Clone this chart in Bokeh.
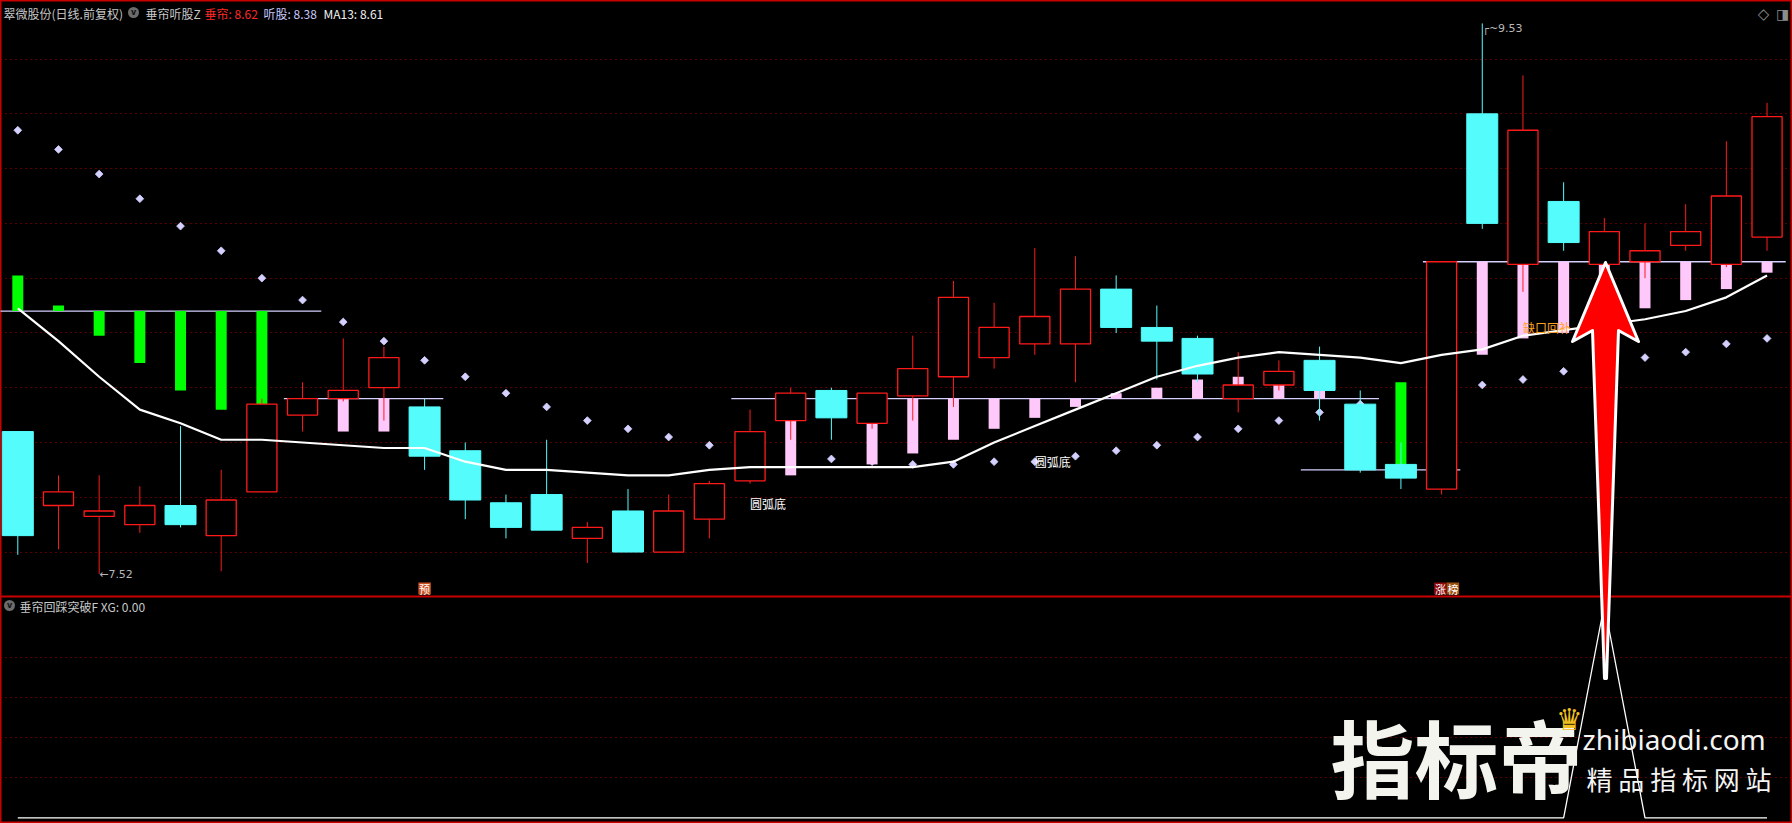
import numpy as np
from bokeh.plotting import figure
from bokeh.models import Range1d, Grid, FixedTicker, Label, GlobalInlineStyleSheet
from bokeh.core.properties import value
from bokeh.embed import file_html
from bokeh.resources import INLINE

# ---------------- data ----------------
stock_title = "翠微股份(日线.前复权)"
ind_main = "垂帘听股Z"
ind_sub = "垂帘回踩突破F"

open_ = [8.04, 7.77, 7.73, 7.70, 7.77, 7.66, 7.82, 8.10, 8.16, 8.20, 8.13, 7.97, 7.78, 7.81, 7.65, 7.75, 7.60, 7.72, 7.86, 8.08,
         8.19, 8.07, 8.17, 8.24, 8.31, 8.36, 8.36, 8.56, 8.42, 8.38, 8.16, 8.21, 8.30, 8.14, 7.92, 7.83, 9.20, 8.65, 8.88, 8.65,
         8.66, 8.72, 8.65, 8.75]
high = [8.04, 7.88, 7.88, 7.84, 8.06, 7.90, 8.16, 8.22, 8.38, 8.35, 8.16, 8.00, 7.81, 8.01, 7.71, 7.83, 7.81, 7.86, 8.12, 8.20,
        8.20, 8.18, 8.39, 8.59, 8.51, 8.71, 8.68, 8.61, 8.50, 8.39, 8.33, 8.30, 8.35, 8.19, 8.00, 8.66, 9.53, 9.34, 8.95, 8.82,
        8.80, 8.87, 9.10, 9.24]
low = [7.59, 7.61, 7.52, 7.67, 7.69, 7.53, 7.82, 8.04, 8.15, 8.08, 7.90, 7.72, 7.65, 7.68, 7.56, 7.60, 7.60, 7.65, 7.85, 8.01,
       8.01, 8.05, 8.08, 8.13, 8.27, 8.32, 8.22, 8.40, 8.23, 8.22, 8.11, 8.19, 8.08, 7.89, 7.83, 7.81, 8.78, 8.55, 8.70, 8.64,
       8.60, 8.70, 8.64, 8.70]
close = [7.66, 7.82, 7.75, 7.77, 7.70, 7.79, 8.14, 8.16, 8.19, 8.31, 7.95, 7.79, 7.69, 7.68, 7.69, 7.60, 7.75, 7.85, 8.04, 8.18,
         8.09, 8.18, 8.27, 8.53, 8.42, 8.46, 8.56, 8.42, 8.37, 8.25, 8.21, 8.26, 8.19, 7.90, 7.87, 8.66, 8.80, 9.14, 8.73, 8.77,
         8.70, 8.77, 8.90, 9.19]

ma13 = [8.49, 8.37, 8.24, 8.12, 8.07, 8.01, 8.01, 8.00, 7.99, 7.98, 7.98, 7.93, 7.90, 7.90, 7.89, 7.88, 7.88, 7.90, 7.91, 7.91,
        7.91, 7.91, 7.91, 7.93, 8.00, 8.06, 8.12, 8.18, 8.24, 8.28, 8.31, 8.33, 8.32, 8.31, 8.29, 8.32, 8.34, 8.39, 8.41, 8.43,
        8.45, 8.48, 8.53, 8.61]

tinggu = [9.14, 9.07, 8.98, 8.89, 8.79, 8.70, 8.60, 8.52, 8.44, 8.37, 8.30, 8.24, 8.18, 8.13, 8.08, 8.05, 8.02, 7.99, 7.96, 7.95,
          7.94, 7.93, 7.92, 7.92, 7.93, 7.93, 7.95, 7.97, 7.99, 8.02, 8.05, 8.08, 8.11, 8.14, 8.16, 8.18, 8.21, 8.23, 8.26, 8.28,
          8.31, 8.33, 8.36, 8.38]

# 垂帘 bars: value per bar and the baseline segment it hangs from
chuilian = [8.61, 8.50, 8.39, 8.29, 8.19, 8.12, 8.14, None, 8.04, 8.04, None, None, None, None, None, None, None, None, None, 7.88,
            None, 7.92, 7.96, 8.01, 8.05, 8.09, 8.13, 8.18, 8.20, 8.23, 8.24, 8.24, 8.25, None, 8.22, None, 8.32, 8.38, 8.40, 8.45,
            8.49, 8.52, 8.56, 8.62]
cl_seg = [0, 0, 0, 0, 0, 0, 0, None, 1, 1, None, None, None, None, None, None, None, None, None, 2,
          None, 2, 2, 2, 2, 2, 2, 2, 2, 2, 2, 2, 2, None, 3, None, 4, 4, 4, 4,
          4, 4, 4, 4]
seg_start = [0, 7, 18, 32, 35]
seg_end = [7, 10, 33, 35, 43]
seg_level = [8.48, 8.16, 8.16, 7.90, 8.66]
seg_strong = [False, True, True, False, True]

xg = [0, 0, 0, 0, 0, 0, 0, 0, 0, 0, 0, 0, 0, 0, 0, 0, 0, 0, 0, 0,
      0, 0, 0, 0, 0, 0, 0, 0, 0, 0, 0, 0, 0, 0, 0, 0, 0, 0, 0, 1,
      0, 0, 0, 0]

pattern_idx = [18, 25]
pattern_price = [7.81, 7.96]
pattern_text = ["圆弧底", "圆弧底"]
gap_idx = [37]
gap_price = [8.45]
gap_text = ["缺口回补"]
signal_idx = [10, 35]
signal_text = ["预", "涨榜"]
grid_prices = [9.4, 9.2, 9.0, 8.8, 8.6, 8.4, 8.2, 8.0, 7.8, 7.6]

# ---------------- styles ----------------
RED = "#ff1a1a"
CYAN = "#54fcfc"
GREEN = "#00ff00"
PINK = "#ffc8fa"
LAV = "#d4d0ff"
GRIDRED = "#b40000"
CJK = "Noto Sans CJK SC"

W, H = 1792, 823


def X(px):
    return (px - 17.3) / 40.68


def Y(py):
    return 8.0 + (442.0 - py) / 273.9


XG0, XGK = 817.3, 213.3

p = figure(width=W, height=H, x_range=Range1d(X(0), X(W)), y_range=Range1d(Y(H), Y(0)),
           output_backend="svg", toolbar_location=None, x_axis_location=None, y_axis_location=None,
           min_border=0, background_fill_color="black", border_fill_color="black",
           outline_line_color="#c80000", outline_line_width=2)
p.extra_y_ranges = {"xg": Range1d((XG0 - H) / XGK, XG0 / XGK)}
p.stylesheets = [GlobalInlineStyleSheet(
    css="html,body{margin:0 !important;padding:0 !important;background:#000 !important;overflow:hidden !important;}")]
for g in p.grid:
    g.visible = False

p.add_layout(Grid(dimension=1, ticker=FixedTicker(ticks=grid_prices), grid_line_color=GRIDRED,
                  grid_line_dash="1 4", grid_line_width=1))
p.add_layout(Grid(dimension=1, ticker=FixedTicker(ticks=[Y(656.7), Y(696.7), Y(736.7), Y(777.3)]),
                  grid_line_color=GRIDRED, grid_line_dash="1 4", grid_line_width=1))

idx = np.arange(len(close))

# panel divider
p.hspan(y=[Y(596)], line_color="#c80000", line_width=2)

# baselines
p.segment(x0=[s - 0.46 for s in seg_start], x1=[e + 0.46 for e in seg_end],
          y0=seg_level, y1=seg_level, line_color=LAV, line_width=1.3)

# 听股 dots
p.scatter(idx, tinggu, marker="square", angle=np.pi / 4, size=5.5, fill_color=LAV, line_color=LAV, line_width=0.8)

# 垂帘 bars
bx, bt, bb, bc = [], [], [], []
for i, (v, s) in enumerate(zip(chuilian, cl_seg)):
    if v is None or s is None:
        continue
    base = seg_level[s]
    bx.append(i)
    bt.append(max(v, base))
    bb.append(min(v, base))
    bc.append(PINK if seg_strong[s] else GREEN)
p.vbar(x=bx, width=0.27, top=bt, bottom=bb, fill_color=bc, line_color=None)

# candles
o = np.array(open_); c = np.array(close); hi = np.array(high); lo = np.array(low)
up = c >= o
wcol = [RED if u else CYAN for u in up]
p.segment(x0=idx, x1=idx, y0=hi, y1=lo, line_color=wcol, line_width=1)
p.vbar(x=idx[~up], width=0.762, top=o[~up], bottom=c[~up], fill_color=CYAN, line_color=CYAN, line_width=1)
p.vbar(x=idx[up], width=0.74, top=c[up], bottom=o[up], fill_color="black", line_color=RED, line_width=1.3)

# MA13
p.line(idx, ma13, line_color="white", line_width=2.2)

# XG line (lower panel)
p.line(idx, xg, y_range_name="xg", line_color="white", line_width=1.3)

# pattern texts
p.text(x=pattern_idx, y=pattern_price, text=pattern_text, text_font=value(CJK), text_font_size="12px",
       text_color="white", text_baseline="top", text_align="left")
p.text(x=gap_idx, y=gap_price, text=gap_text, text_font=value(CJK), text_font_size="12px",
       text_color="#ffa020", text_baseline="top", text_align="left")

# high / low marks
li = int(np.argmin(lo)); hidx = int(np.argmax(hi))
p.text(x=[li], y=[lo[li]], text=[f"←{lo[li]:.2f}"], text_font=value("DejaVu Sans"), text_font_size="11px",
       text_color="#b8b8b8", text_baseline="middle", text_align="left", y_offset=1)
p.text(x=[hidx], y=[hi[hidx]], text=[f"┌~{hi[hidx]:.2f}"], text_font=value("DejaVu Sans"), text_font_size="11px",
       text_color="#b8b8b8", text_baseline="middle", text_align="left", y_offset=5)

# signal tags at bottom of main panel
sig_y = Y(588)
for i, t in zip(signal_idx, signal_text):
    bgs = ["#c8501e"] if len(t) == 1 else ["#8c0a0a", "#9c5010"]
    for k, ch in enumerate(t):
        xx = i + X(17.3 + 12.5 * k) - X(17.3) - (0 if len(t) == 1 else 0.03)
        p.rect(x=[xx], y=[sig_y], width=12.5, height=12, width_units="screen", height_units="screen",
               fill_color=bgs[k], line_color=None)
        p.text(x=[xx], y=[sig_y], text=[ch], text_font=value(CJK), text_font_size="11px", text_color="white",
               text_align="center", text_baseline="middle")

# big red arrow (annotation pointing at bar 39)
arrow_px = [(1605, 262), (1638, 341), (1618, 330), (1606, 678), (1604, 678), (1592, 330), (1572, 341)]
p.patch([X(a) for a, b in arrow_px], [Y(b) for a, b in arrow_px], fill_color="#ff0000",
        line_color="white", line_width=3, line_join="round")

# title icons
for cx, cy in [(133, 12), (9, 605)]:
    p.scatter([X(cx)], [Y(cy)], marker="circle", size=11, fill_color="#6c6c6c", line_color=None)
    p.text([X(cx)], [Y(cy)], text=["v"], text_font=value("DejaVu Sans"), text_font_size="8px",
           text_font_style="bold", text_color="#111111", text_align="center", text_baseline="middle")


def lab(x, y, t, color, size="12px", font=CJK, style="normal", align="left"):
    p.add_layout(Label(x=X(x), y=Y(y), text=t, text_color=color, text_font_size=size, text_font=font,
                       text_font_style=style, text_baseline="middle", text_align=align))


lab(3, 12.5, stock_title, "#c8c8c8")
lab(145, 12.5, ind_main, "#c8c8c8")
lab(204, 12.5, f"垂帘: {chuilian[-1]:.2f}", "#ff2828")
lab(263, 12.5, f"听股: {tinggu[-1]:.2f}", "#c8c8ff")
lab(323, 12.5, f"MA13: {ma13[-1]:.2f}", "#f0f0f0")
lab(19, 605.5, f"{ind_sub} XG: {xg[-1]:.2f}", "#c8c8c8")
lab(1763, 13, "◇", "#8c8c8c", size="15px", font="DejaVu Sans", align="center")
lab(1782, 13, "◨", "#8c8c8c", size="14px", font="DejaVu Sans", align="center")

# watermark
lab(1330, 755, "指标帝", "#f4f4ee", size="84px", style="bold")
lab(1569, 719, "♛", "#f0c020", size="30px", font="DejaVu Sans", align="center")
lab(1582, 738, "zhibiaodi.com", "#f4f4f4", size="28px", font="Noto Sans")
lab(1586, 778, "精 品 指 标 网 站", "#f4f4f4", size="26px")

open("out.html", "w").write(file_html(p, INLINE))
